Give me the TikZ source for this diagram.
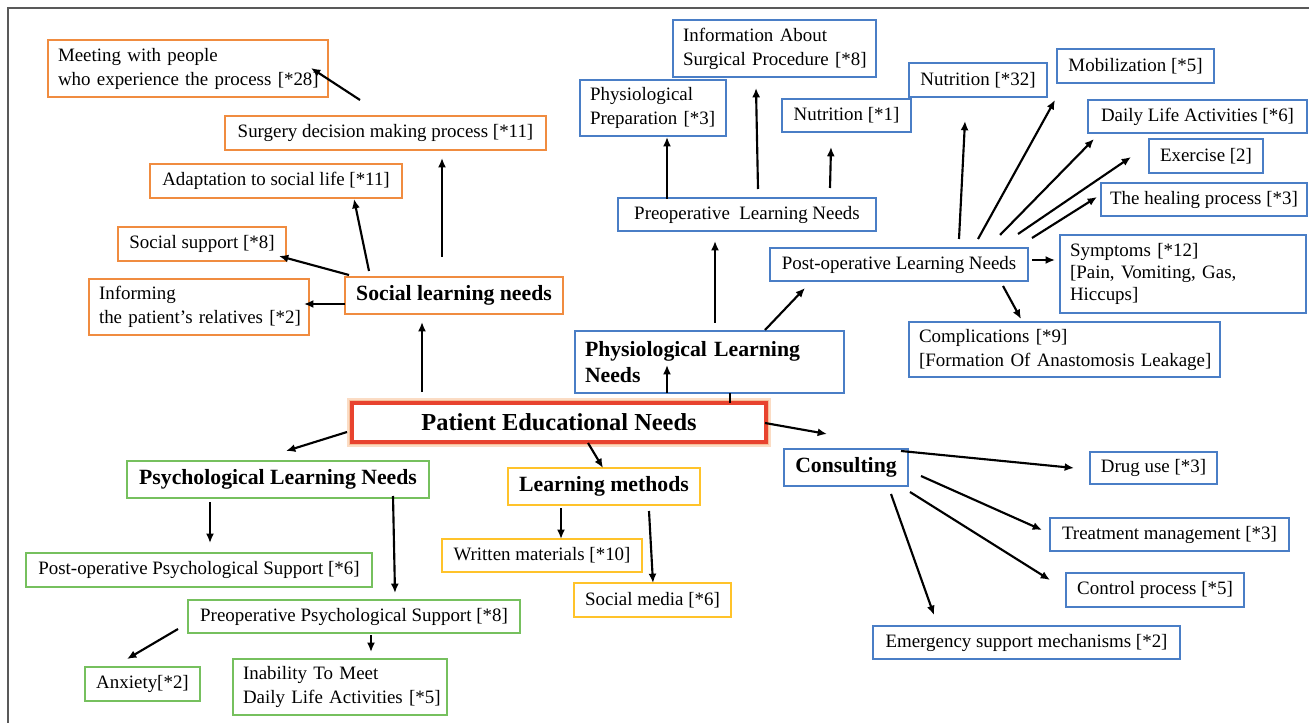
\documentclass[tikz,border=0pt]{standalone}
\usepackage{fontspec}
\setmainfont{Liberation Serif}
\usetikzlibrary{arrows.meta}
\definecolor{cor}{HTML}{F08C40}
\definecolor{cbl}{HTML}{4A7EC6}
\definecolor{cgr}{HTML}{76C05E}
\definecolor{cye}{HTML}{FFC32A}
\definecolor{cred}{HTML}{E8432E}
\definecolor{cglow}{HTML}{FBDCC4}
\definecolor{cglowb}{HTML}{F6BE98}
\tikzset{
  base/.style={draw, line width=1.5pt, fill=white, inner sep=2pt, font=\fontsize{14.2}{18}\selectfont},
  orb/.style={base, draw=cor},
  blb/.style={base, draw=cbl},
  grb/.style={base, draw=cgr},
  yeb/.style={base, draw=cye},
  lbox/.style={inner xsep=7.5pt, align=left},
  bold/.style={font=\fontsize{16.3}{19}\selectfont\bfseries},
  mainbox/.style={draw=cred, line width=3pt, fill=white, inner sep=2pt,
     font=\fontsize{18.3}{20}\selectfont\bfseries,
     preaction={draw=cglow, line width=8pt},
     preaction={draw=cglowb, line width=5pt}},
  arr/.style={line width=1.6pt, -{Latex[length=7pt,width=6pt]}},
  seg/.style={line width=1.6pt}
}
\newcommand{\bx}[7]{\node[#6, minimum width={(#4-#2)*0.75pt}, minimum height={(#5-#3)*0.75pt}] (#1) at ({(#2+#4)/2},{(#3+#5)/2}) {#7};}
\begin{document}
\begin{tikzpicture}[x=0.75pt,y=-0.75pt]
\useasboundingbox (0,0) rectangle (1309,723);
\fill[white] (0,0) rectangle (1309,723);
\draw[black!65, line width=1.5pt] (8,723) -- (8,8) -- (1309,8);

% ---- social (orange)
\bx{meet}{48}{40}{328}{97}{orb,lbox,text width=195pt}{\mbox{Meeting with people}\\\mbox{who experience the process [*28]}}
\bx{surg}{225}{116}{546}{150}{orb}{Surgery decision making process [*11]}
\bx{adapt}{150}{164}{402}{198}{orb}{Adaptation to social life [*11]}
\bx{socsup}{118}{227}{286}{261}{orb}{Social support [*8]}
\bx{inform}{89}{279}{309}{335}{orb,lbox,text width=150pt}{\mbox{Informing}\\\mbox{the patient's relatives [*2]}}
\bx{soc}{345}{277}{563}{314}{orb,bold}{Social learning needs}

% ---- physiological (blue)
\bx{info}{673}{20}{876}{77}{blb,lbox,text width=137.25pt}{\mbox{Information About}\\\mbox{Surgical Procedure [*8]}}
\bx{prep}{580}{80}{726}{136}{blb,lbox,text width=94.5pt}{\mbox{Physiological}\\\mbox{Preparation [*3]}}
\bx{nutra}{782}{99}{911}{132}{blb}{Nutrition [*1]}
\bx{nutrb}{909}{63}{1047}{97}{blb}{Nutrition [*32]}
\bx{mob}{1057}{49}{1214}{83}{blb}{Mobilization [*5]}
\bx{daily}{1088}{100}{1307}{133}{blb}{Daily Life Activities [*6]}
\bx{exer}{1149}{139}{1263}{173}{blb}{Exercise [2]}
\bx{heal}{1101}{183}{1307}{216}{blb}{The healing process [*3]}
\bx{pre}{618}{198}{876}{231}{blb}{Preoperative~ Learning Needs}
\bx{post}{770}{248}{1028}{281}{blb}{Post-operative Learning Needs}
\bx{symp}{1060}{235}{1306}{313}{blb,lbox,text width=169.5pt,font=\fontsize{14.2}{16.5}\selectfont}{\mbox{Symptoms [*12]}\\\mbox{[Pain, Vomiting, Gas,}\\\mbox{Hiccups]}}
\bx{comp}{909}{322}{1220}{377}{blb,lbox,text width=218.25pt}{\mbox{Complications [*9]}\\\mbox{[Formation Of Anastomosis Leakage]}}
\bx{phys}{575}{331}{844}{393}{blb,lbox,bold,text width=186.75pt}{\mbox{Physiological Learning}\\\mbox{Needs}}

% ---- main
\node[mainbox, minimum width={(766-352)*0.75pt}, minimum height={(442-403)*0.75pt}] (main) at (559,422.5) {Patient Educational Needs};

% ---- psychological (green)
\bx{psych}{127}{461}{429}{498}{grb,bold}{Psychological Learning Needs}
\bx{postps}{26}{553}{372}{587}{grb}{Post-operative Psychological Support [*6]}
\bx{preps}{188}{600}{520}{633}{grb}{Preoperative Psychological Support [*8]}
\bx{anx}{85}{667}{200}{701}{grb}{Anxiety[*2]}
\bx{inab}{233}{659}{447}{715}{grb,lbox,text width=145.5pt}{\mbox{Inability To Meet}\\\mbox{Daily Life Activities [*5]}}

% ---- learning methods (yellow)
\bx{lm}{508}{468}{700}{505}{yeb,bold}{Learning methods}
\bx{written}{442}{539}{642}{572}{yeb}{Written materials [*10]}
\bx{socmed}{574}{583}{731}{617}{yeb}{Social media [*6]}

% ---- consulting (blue)
\bx{cons}{784}{449}{908}{486}{blb,bold}{Consulting}
\bx{drug}{1090}{452}{1217}{484}{blb}{Drug use [*3]}
\bx{treat}{1050}{518}{1289}{551}{blb}{Treatment management [*3]}
\bx{ctrl}{1066}{573}{1244}{607}{blb}{Control process [*5]}
\bx{emerg}{873}{626}{1180}{659}{blb}{Emergency support mechanisms [*2]}

% ---- connector end points
\foreach \n/\x/\y in {
 s1/360/100, e1/311/68, s2/442/257, e2/442/158, s3/369/271, e3/354/199,
 s4/349/275, e4/279/256, s5/345/304, e5/304/304, s6/422/392, e6/422/322,
 s7/667/199, e7/667/137, s8/758/189, e8/756/88, s9/830/188, e9/831/147,
 s10/715/323, e10/715/241, s11/765/330, e11/805/288, s12/959/239, e12/965/121,
 s13/978/239, e13/1055/100, s14/1000/235, e14/1094/139, s15/1018/234, e15/1131/157,
 s16/1032/238, e16/1097/197, s17/1032/260, e17/1055/260, s18/1003/286, e18/1021/319,
 s19/667/393, e19/667/365, s20/730/393, e20/730/403,
 s21/347/432, e21/286/451, s22/588/443, e22/603/468, s23/765/423, e23/827/434,
 s24/210/502, e24/210/543, s25/393/496, e25/395/593, s26/178/629, e26/127/659,
 s27/371/635, e27/371/652, s28/561/508, e28/561/539, s29/649/511, e29/653/583,
 s30/901/451, e30/1074/468, s31/921/476, e31/1042/530, s32/910/492, e32/1050/580,
 s33/891/494, e33/934/615}
 {\coordinate (\n) at (\x,\y);}

\foreach \i in {1,...,19,21,22,23,24,25,26,27,28,29,30,31,32,33}
  {\draw[arr] (s\i) -- (e\i);}
\draw[seg] (s20) -- (e20);
\end{tikzpicture}
\end{document}
